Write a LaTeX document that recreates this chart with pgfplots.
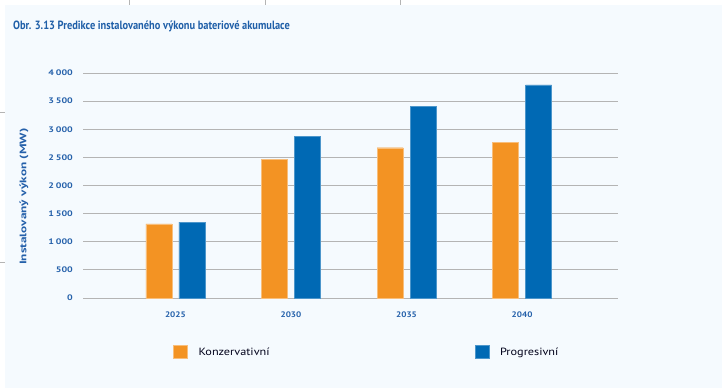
\documentclass[border=0pt]{standalone}
\usepackage{fontspec}
\setmainfont{PT Sans}
\newfontfamily\condfont[FakeStretch=0.87]{PT Sans}
\newfontfamily\labfont[FakeStretch=1.4]{PT Sans}
\newfontfamily\tickfont[FakeStretch=1.25]{PT Sans}
\newfontfamily\xtickfont[FakeStretch=1.15]{PT Sans}
\newfontfamily\legfont[FakeStretch=1.17]{PT Sans}
\usepackage{pgfplots}
\pgfplotsset{compat=1.18}
\definecolor{bg}{HTML}{F5FAFE}
\definecolor{titleblue}{HTML}{1F5FA8}
\definecolor{tickblue}{HTML}{2460AA}
\definecolor{gridgray}{HTML}{B4B4B4}
\definecolor{konz}{HTML}{F39323}
\definecolor{prog}{HTML}{0069B4}
\begin{document}
\begin{tikzpicture}
\useasboundingbox (0,0) rectangle (722bp,-388bp);
\fill[white] (0,0) rectangle (722bp,-388bp);
\fill[bg] (5bp,-5bp) rectangle (722bp,-388bp);
\draw[gridgray, line width=0.7bp] (129bp,0) -- (129bp,-5bp) (265bp,0) -- (265bp,-5bp) (400bp,0) -- (400bp,-5bp);
\draw[gridgray, line width=0.7bp] (0,-112bp) -- (5bp,-112bp) (0,-262bp) -- (5bp,-262bp);
\node[anchor=west, inner sep=0, text=titleblue, font=\condfont\bfseries\fontsize{12}{14}\selectfont] at (13bp,-26.5bp) {Obr. 3.13 Predikce instalovaného výkonu bateriové akumulace};
\begin{axis}[
  at={(83bp,-298bp)}, anchor=south west,
  width=535bp, height=225bp, scale only axis,
  xmin=-0.8, xmax=3.83, ymin=0, ymax=4000,
  ybar=7bp, bar width=26bp,
  xtick=data, xticklabels={2025,2030,2035,2040},
  ytick={0,500,...,4000},
  ymajorgrids, grid style={draw=gridgray, line width=0.8bp},
  axis line style={draw=none}, major tick length=0pt,
  yticklabel style={font=\tickfont\bfseries\fontsize{8}{10}\selectfont, text=tickblue, anchor=east, inner sep=0pt, xshift=-10bp},
  xticklabel style={font=\xtickfont\bfseries\fontsize{8}{9}\selectfont, text=tickblue, anchor=center, inner sep=0pt, yshift=-17bp},
  /pgf/number format/.cd, 1000 sep={\hspace{0.22em}}, assume math mode=true,
  /pgfplots/.cd,
  ylabel={Instalovaný výkon (MW)},
  ylabel style={font=\labfont\bfseries\fontsize{9.5}{11}\selectfont, text=tickblue, at={(axis description cs:-0.1103,0.45)}, anchor=center},
  legend columns=2,
  legend image code/.code={\fill[#1] (0bp,-6.5bp) rectangle (14bp,6.5bp);},
  legend style={at={(axis description cs:0.1626,-0.24)}, anchor=west, draw=none, fill=none,
    font=\legfont\fontsize{10.5}{12}\selectfont, text=black!90!blue, nodes={inner sep=0pt},
    /tikz/every odd column/.append style={column sep=11bp},
    /tikz/every even column/.append style={column sep=205bp}},
]
\addplot[fill=konz, draw=konz!60!white, line width=0.4bp] coordinates {(0,1316) (1,2466) (2,2672) (3,2761)};
\addplot[fill=prog, draw=prog!70!white, line width=0.4bp] coordinates {(0,1351) (1,2868) (2,3413) (3,3787)};
\legend{Konzervativní,Progresivní}
\end{axis}
\end{tikzpicture}
\end{document}
